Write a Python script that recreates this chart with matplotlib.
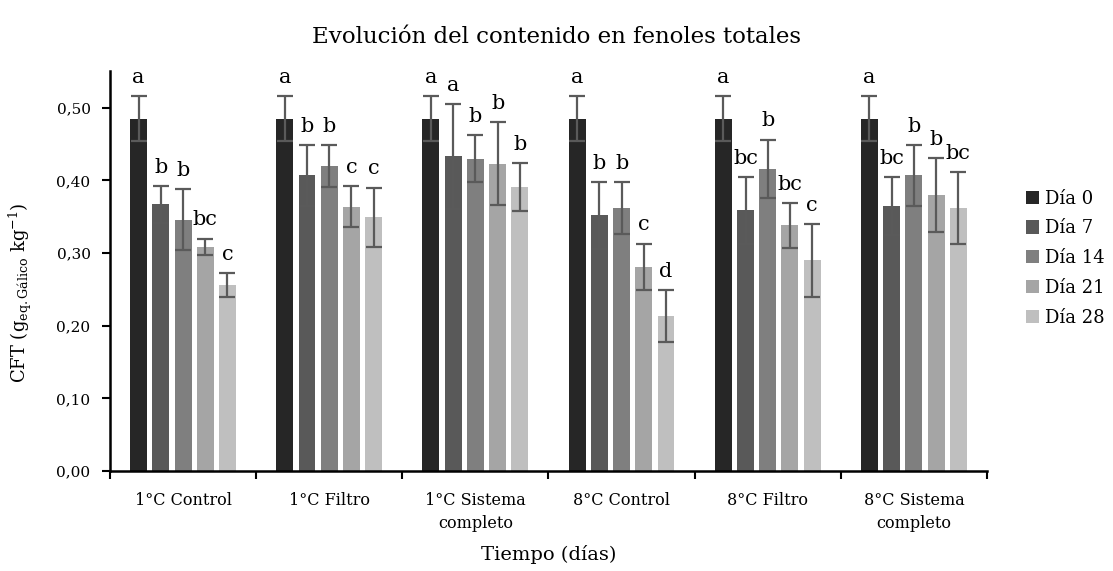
import numpy as np
import matplotlib
matplotlib.use("Agg")
import matplotlib.pyplot as plt

plt.rcParams['font.family'] = ['DejaVu Serif']
plt.rcParams['mathtext.fontset'] = 'dejavuserif'

# datos
grupos = ['1°C Control', '1°C Filtro', '1°C Sistema\ncompleto',
          '8°C Control', '8°C Filtro', '8°C Sistema\ncompleto']
dias = ['Día 0', 'Día 7', 'Día 14', 'Día 21', 'Día 28']

dia0 = [0.485, 0.485, 0.485, 0.485, 0.485, 0.485]
dia7 = [0.367, 0.407, 0.433, 0.352, 0.359, 0.365]
dia14 = [0.346, 0.420, 0.430, 0.362, 0.416, 0.407]
dia21 = [0.309, 0.364, 0.423, 0.281, 0.338, 0.380]
dia28 = [0.256, 0.349, 0.391, 0.213, 0.290, 0.362]

err0 = [0.031, 0.031, 0.031, 0.031, 0.031, 0.031]
err7 = [0.025, 0.042, 0.072, 0.046, 0.046, 0.040]
err14 = [0.042, 0.029, 0.032, 0.036, 0.040, 0.042]
err21 = [0.011, 0.028, 0.057, 0.032, 0.031, 0.051]
err28 = [0.016, 0.041, 0.033, 0.036, 0.050, 0.049]

letras0 = ['a', 'a', 'a', 'a', 'a', 'a']
letras7 = ['b', 'b', 'a', 'b', 'bc', 'bc']
letras14 = ['b', 'b', 'b', 'b', 'b', 'b']
letras21 = ['bc', 'c', 'b', 'c', 'bc', 'b']
letras28 = ['c', 'c', 'b', 'd', 'c', 'bc']

valores = [dia0, dia7, dia14, dia21, dia28]
errores = [err0, err7, err14, err21, err28]
letras = [letras0, letras7, letras14, letras21, letras28]
colores = ['#262626', '#595959', '#7f7f7f', '#a5a5a5', '#bfbfbf']

fig = plt.figure(figsize=(11.13, 5.71), dpi=100)
ax = fig.add_axes([0.0988, 0.175, 0.788, 0.7])

x = np.arange(len(grupos))
paso = 0.152
ancho = 0.116

for i, (vals, errs, lets) in enumerate(zip(valores, errores, letras)):
    pos = x + (i - 2) * paso
    ax.bar(pos, vals, width=ancho, color=colores[i], label=dias[i], zorder=2)
    ax.errorbar(pos, vals, yerr=errs, fmt='none', ecolor='#5a5a5a',
                elinewidth=1.6, capsize=6, capthick=1.6, zorder=3)
    for p, v, e, l in zip(pos, vals, errs, lets):
        ax.annotate(l, (p, v + e), xytext=(0, 9.5), textcoords='offset points',
                    ha='center', va='baseline', fontsize=15)

ax.set_xlim(-0.5, len(grupos) - 0.5)
ax.set_ylim(0, 0.55)
ax.set_yticks(np.arange(0, 0.51, 0.1))
ax.set_yticklabels([f'{t:.2f}'.replace('.', ',') for t in np.arange(0, 0.51, 0.1)],
                   fontsize=11)
ax.set_xticks(x)
ax.set_xticklabels(grupos, fontsize=11.5, linespacing=1.5)
ax.set_xticks(np.arange(-0.5, len(grupos)), minor=True)
ax.tick_params(axis='x', which='major', length=0, pad=15)
ax.tick_params(axis='x', which='minor', length=6, width=1.5, direction='out')
ax.tick_params(axis='y', length=6, width=1.5, direction='out', pad=8)

for s in ['top', 'right']:
    ax.spines[s].set_visible(False)
ax.spines['left'].set_linewidth(1.8)
ax.spines['bottom'].set_linewidth(1.8)

ax.set_xlabel('Tiempo (días)', fontsize=14, labelpad=9)
ax.set_ylabel(r'CFT (g$_{\mathrm{eq.Gálico}}$ kg$^{\mathrm{-1}}$)', fontsize=13)
ax.yaxis.set_label_coords(-0.087, 0.447)
fig.suptitle('Evolución del contenido en fenoles totales', fontsize=16.5, y=0.955)

ax.legend(loc='center left', bbox_to_anchor=(0.907, 0.548), bbox_transform=fig.transFigure,
          frameon=False, fontsize=13, handlelength=0.75, handleheight=0.75,
          handletextpad=0.3, labelspacing=0.65)

fig.savefig('out.png', dpi=100)
